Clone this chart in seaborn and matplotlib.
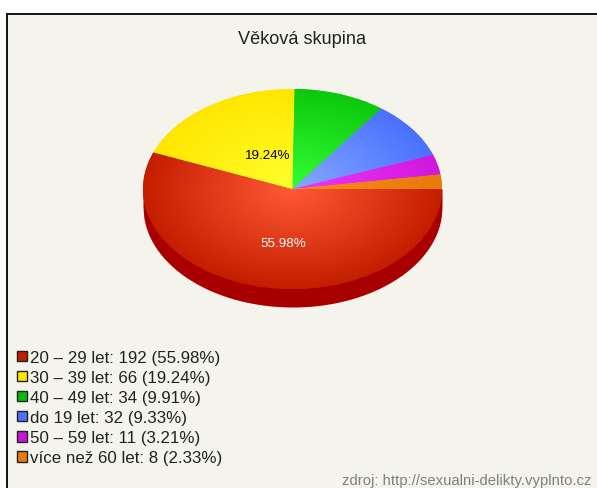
import numpy as np
import matplotlib
matplotlib.use("Agg")
import matplotlib.pyplot as plt
import seaborn as sns
from matplotlib.colors import LinearSegmentedColormap
from matplotlib.patches import Patch, Rectangle

# data
categories = ["20 – 29 let", "30 – 39 let", "40 – 49 let", "do 19 let", "50 – 59 let", "více než 60 let"]
counts = [192, 66, 34, 32, 11, 8]
percents = [55.98, 19.24, 9.91, 9.33, 3.21, 2.33]

title = "Věková skupina"
source = "zdroj: http://sexualni-delikty.vyplnto.cz"

# barvy: stred -> okraj vysece
center_colors = ["#ff5a36", "#ffff2c", "#34ff36", "#86aaff", "#f235ff", "#ff8c1a"]
edge_colors = ["#c41e00", "#ffe600", "#0cc80c", "#4a70ff", "#d018dc", "#e67a0a"]
swatch_colors = ["#c41e00", "#ffe600", "#0cb80c", "#4a70ff", "#c814d4", "#e67a0a"]
side_color = "#a80000"
panel_color = "#f4f4ec"

W, H = 597, 489
DEPTH = 18 / 100

sns.set_theme(style="white")
plt.rcParams["font.family"] = ["Liberation Sans", "DejaVu Sans"]

fig = plt.figure(figsize=(W / 100, H / 100), dpi=100, facecolor="white")

# panel s cernym okrajem vlevo a nahore
fig.patches.append(Rectangle((6.5 / W, -0.1), 1.1, 0.1 + (H - 14.5) / H, transform=fig.transFigure,
                             facecolor=panel_color, edgecolor="#111111", linewidth=1.4, figure=fig, zorder=-1))

ax = fig.add_axes([143 / W, (H - 308) / H, 299 / W, 218 / H])
ax.patch.set_alpha(0)

wedges, _ = ax.pie(counts, startangle=0, counterclock=False, radius=1,
                   colors=sns.color_palette(edge_colors), wedgeprops={"linewidth": 0, "zorder": 2})

# bok kolace
xs = np.linspace(-1, 1, 400)
ax.fill_between(xs, 0, -DEPTH - np.sqrt(1 - xs ** 2), color=side_color, linewidth=0, zorder=1)

# radialni gradient pres kazdou vysec
gx, gy = np.meshgrid(np.linspace(-1, 1, 400), np.linspace(-1, 1, 400))
rr = np.clip(np.hypot(gx, gy), 0, 1)
for w, c0, c1 in zip(wedges, center_colors, edge_colors):
    cmap = LinearSegmentedColormap.from_list("g", [c0, c1])
    im = ax.imshow(rr, extent=(-1, 1, -1, 1), origin="lower", cmap=cmap, vmin=0, vmax=1,
                   interpolation="bilinear", zorder=3, aspect="auto")
    im.set_clip_path(w)

ax.set_aspect("auto")
ax.set_xlim(-1, 1)
ax.set_ylim(-1 - DEPTH, 1)
ax.axis("off")

ax.text(-0.167, 0.34, f"{percents[1]:.2f}%", color="black", fontsize=9.6, ha="center", va="center", zorder=5)
ax.text(-0.06, -0.54, f"{percents[0]:.2f}%", color="white", fontsize=9.6, ha="center", va="center", zorder=5)

fig.text(302 / W, 1 - 40 / H, title, fontsize=13.1, color="#222222", ha="center", va="center")
fig.text(592 / W, 1 - 481.5 / H, source, fontsize=10.7, color="#808080", ha="right", va="center")

labels = [f"{c}: {n} ({p:.2f}%)" for c, n, p in zip(categories, counts, percents)]
handles = [Patch(facecolor=c, edgecolor="#222222", linewidth=1) for c in swatch_colors]
leg = fig.legend(handles, labels, loc="upper left", bbox_to_anchor=(17 / W, 1 - 351 / H),
                 bbox_transform=fig.transFigure, frameon=False, fontsize=12.15, borderpad=0, borderaxespad=0,
                 handlelength=0.58, handleheight=0.58, handletextpad=0.2, labelspacing=0.3)
for t in leg.get_texts():
    t.set_color("#222222")

fig.savefig("out.png", dpi=100, facecolor="white")
